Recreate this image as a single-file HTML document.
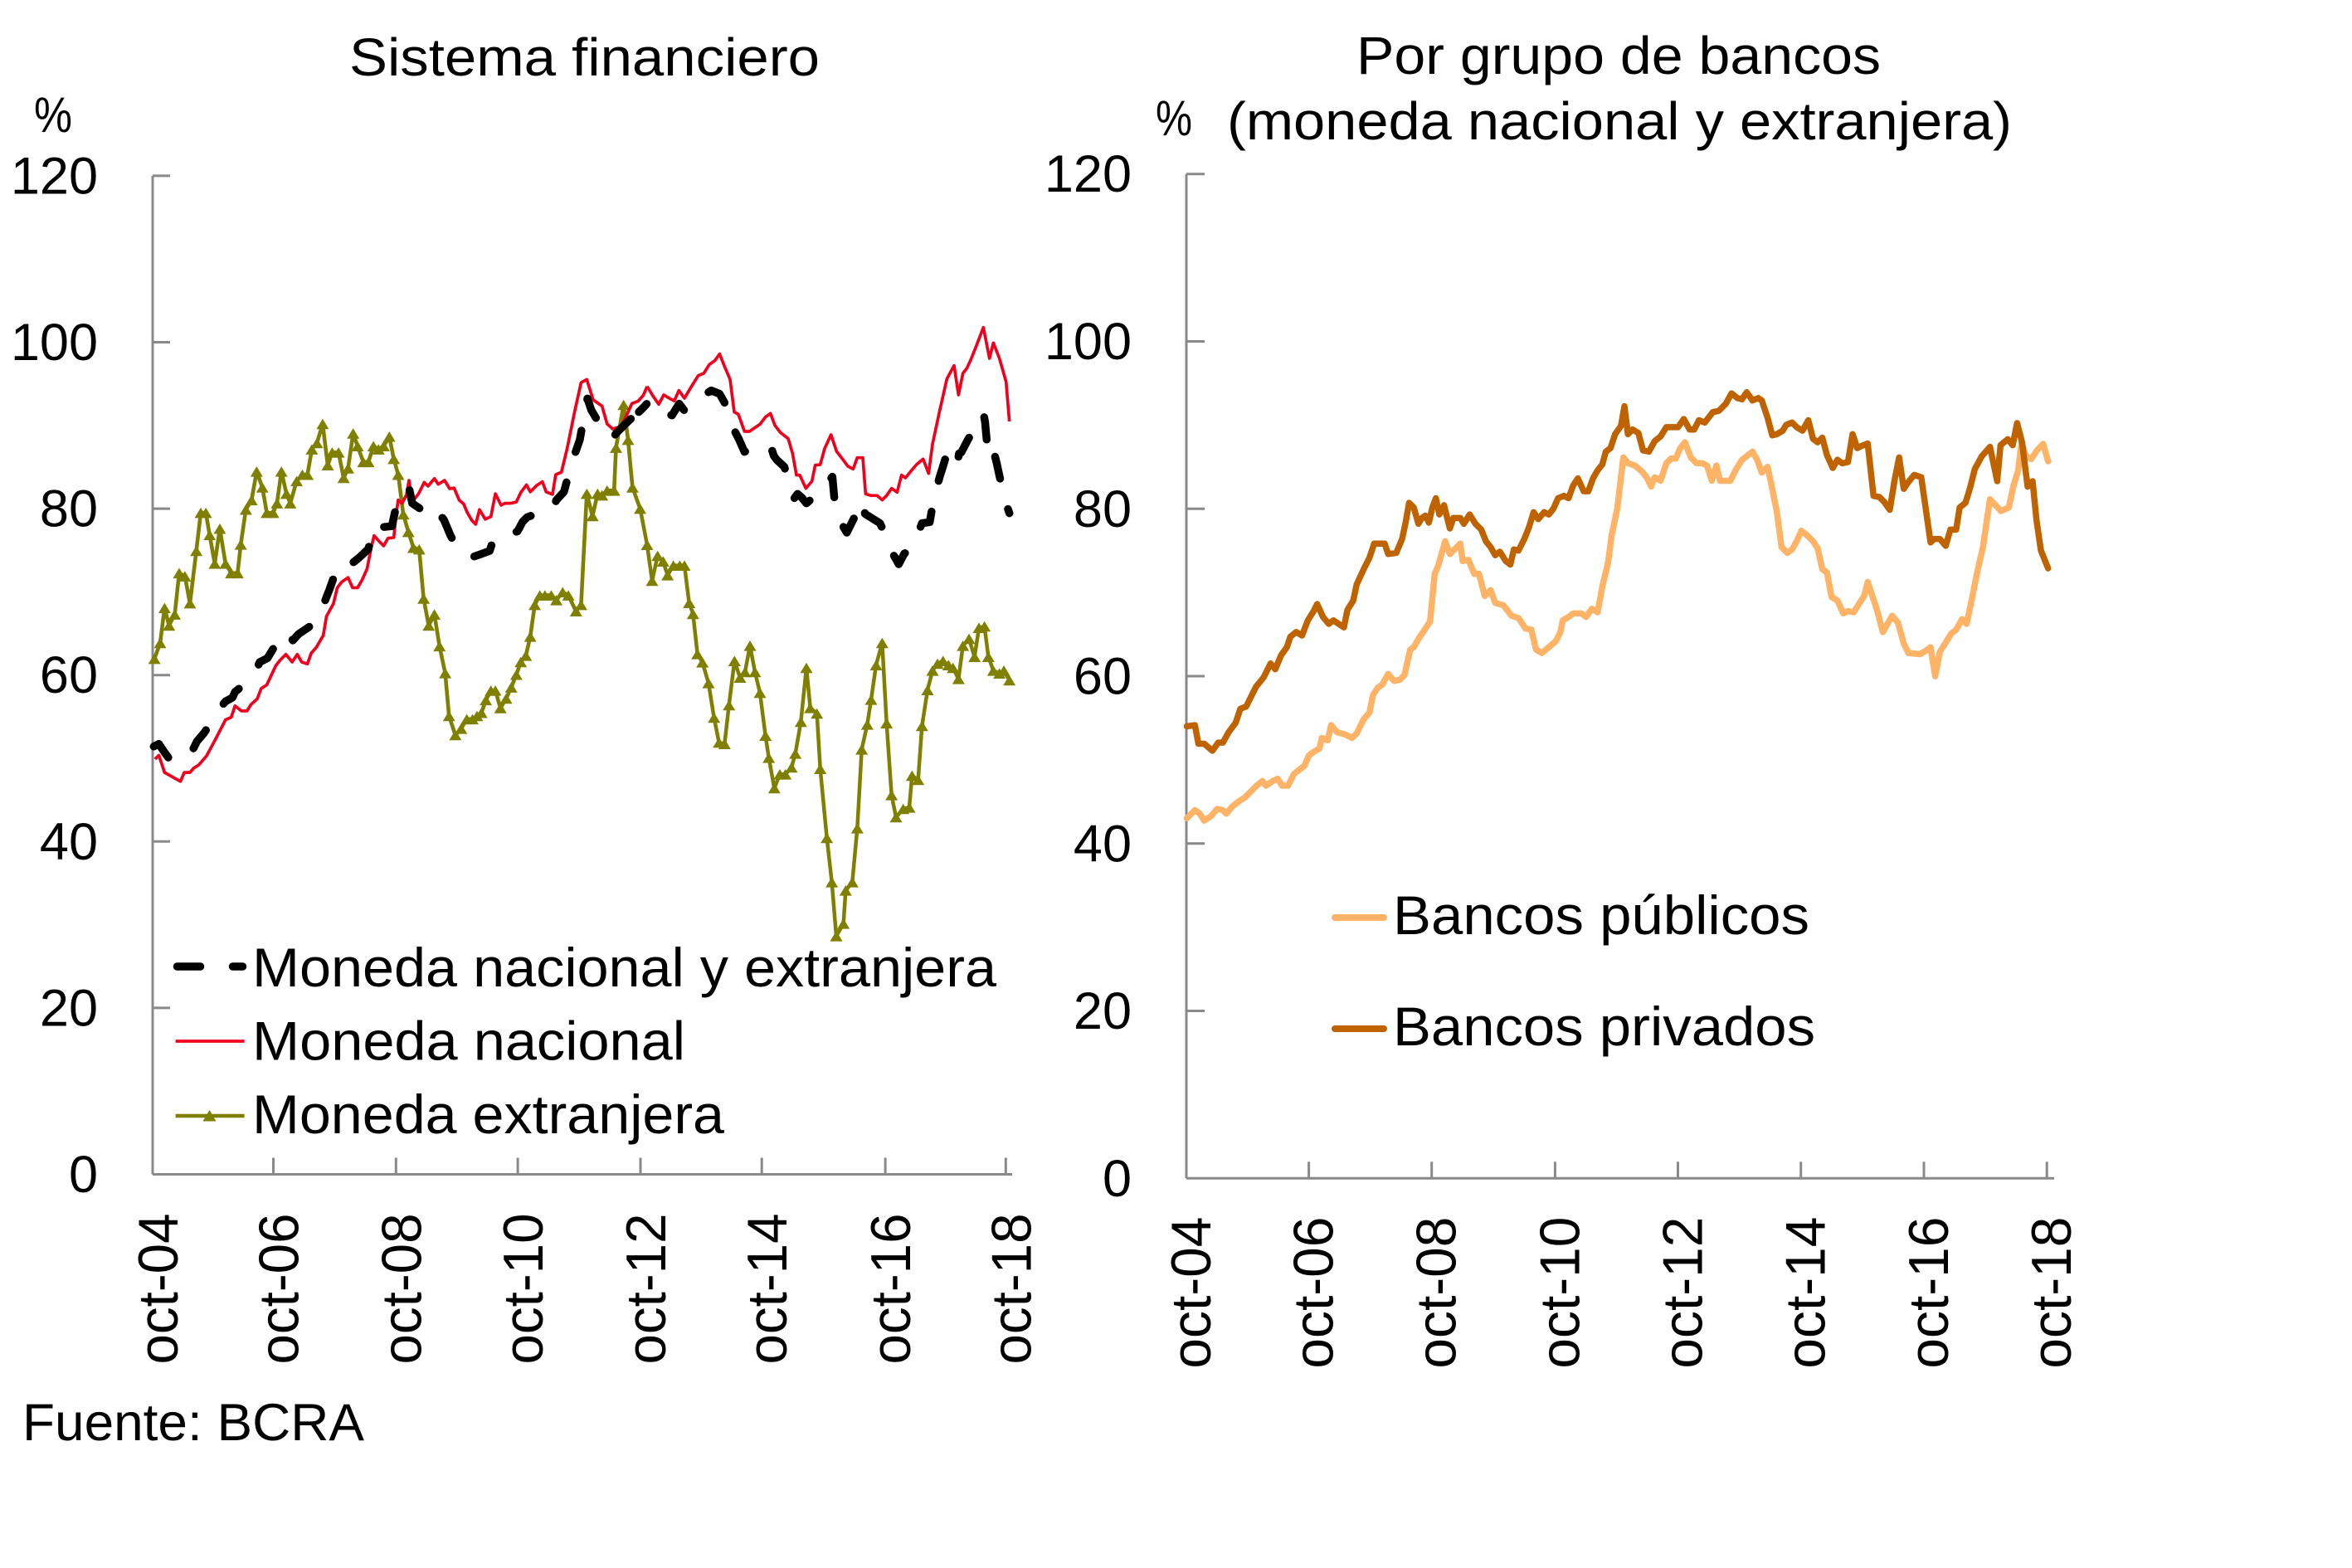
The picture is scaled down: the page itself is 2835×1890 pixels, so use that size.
<!DOCTYPE html>
<html>
<head>
<meta charset="utf-8">
<style>
html,body{margin:0;padding:0;background:#fff;}
svg{display:block;}
text{font-family:"Liberation Sans",Arial,sans-serif;fill:#000;}
</style>
</head>
<body>
<svg width="2835" height="1890" viewBox="0 0 2835 1890" xmlns="http://www.w3.org/2000/svg">
<defs>
<marker id="triA" viewBox="0 0 10 10" refX="5" refY="5" markerWidth="39" markerHeight="39" markerUnits="userSpaceOnUse" orient="0">
<path d="M0,9.2 L5,0.8 L10,9.2 Z" fill="#7F7F00"/>
</marker>
<marker id="triB" viewBox="0 0 10 10" refX="5" refY="5" markerWidth="45" markerHeight="45" markerUnits="userSpaceOnUse" orient="0">
<path d="M0,9.2 L5,0.8 L10,9.2 Z" fill="#7F7F00"/>
</marker>
</defs>
<rect width="2835" height="1890" fill="#fff"/>

<!-- Titles -->
<text x="421" y="91" font-size="64" textLength="567" lengthAdjust="spacingAndGlyphs">Sistema financiero</text>
<text x="41" y="159" font-size="60" textLength="46" lengthAdjust="spacingAndGlyphs">%</text>
<text x="1635" y="89" font-size="64" textLength="632" lengthAdjust="spacingAndGlyphs">Por grupo de bancos</text>
<text x="1393" y="163" font-size="60" textLength="44" lengthAdjust="spacingAndGlyphs">%</text>
<text x="1479" y="168" font-size="64" textLength="946" lengthAdjust="spacingAndGlyphs">(moneda nacional y extranjera)</text>

<!-- LEFT AXES -->
<g stroke="#898989" stroke-width="3" fill="none">
<line x1="184" y1="211.9" x2="184" y2="1415.5"/>
<line x1="184" y1="1415.5" x2="1220" y2="1415.5"/>
<line x1="184" y1="211.9" x2="205" y2="211.9"/>
<line x1="184" y1="412.5" x2="205" y2="412.5"/>
<line x1="184" y1="613.1" x2="205" y2="613.1"/>
<line x1="184" y1="813.7" x2="205" y2="813.7"/>
<line x1="184" y1="1014.3" x2="205" y2="1014.3"/>
<line x1="184" y1="1214.9" x2="205" y2="1214.9"/>
<line x1="329.5" y1="1415.5" x2="329.5" y2="1395.5"/>
<line x1="477.3" y1="1415.5" x2="477.3" y2="1395.5"/>
<line x1="624.1" y1="1415.5" x2="624.1" y2="1395.5"/>
<line x1="772" y1="1415.5" x2="772" y2="1395.5"/>
<line x1="918.2" y1="1415.5" x2="918.2" y2="1395.5"/>
<line x1="1067.1" y1="1415.5" x2="1067.1" y2="1395.5"/>
<line x1="1212.3" y1="1415.5" x2="1212.3" y2="1395.5"/>
</g>
<g font-size="63" text-anchor="end">
<text x="118" y="233.4">120</text>
<text x="118" y="434">100</text>
<text x="118" y="634.6">80</text>
<text x="118" y="835.2">60</text>
<text x="118" y="1035.8">40</text>
<text x="118" y="1236.4">20</text>
<text x="118" y="1437">0</text>
</g>
<g font-size="68" text-anchor="end">
<text transform="translate(214,1462.5) rotate(-90)" textLength="182" lengthAdjust="spacingAndGlyphs">oct-04</text>
<text transform="translate(359.5,1462.5) rotate(-90)" textLength="182" lengthAdjust="spacingAndGlyphs">oct-06</text>
<text transform="translate(507.3,1462.5) rotate(-90)" textLength="182" lengthAdjust="spacingAndGlyphs">oct-08</text>
<text transform="translate(654.1,1462.5) rotate(-90)" textLength="182" lengthAdjust="spacingAndGlyphs">oct-10</text>
<text transform="translate(802,1462.5) rotate(-90)" textLength="182" lengthAdjust="spacingAndGlyphs">oct-12</text>
<text transform="translate(948.2,1462.5) rotate(-90)" textLength="182" lengthAdjust="spacingAndGlyphs">oct-14</text>
<text transform="translate(1097.1,1462.5) rotate(-90)" textLength="182" lengthAdjust="spacingAndGlyphs">oct-16</text>
<text transform="translate(1242.3,1462.5) rotate(-90)" textLength="182" lengthAdjust="spacingAndGlyphs">oct-18</text>
</g>

<!-- LEFT SERIES: zoom7 region -->
<g transform="translate(180,400) scale(0.382653)" fill="none" stroke-linejoin="round">
<polyline stroke="#7F7F00" stroke-width="12" marker-start="url(#triA)" marker-mid="url(#triA)" marker-end="url(#triA)" points="16,1030 34,980 48,870 62,925 80,890 94,760 112,770 128,855 148,690 162,570 178,570 190,640 206,730 222,620 240,730 258,760 278,760 288,670 304,560 322,530 338,440 356,490 370,570 390,570 402,540 416,440 432,510 444,540 464,470 482,450 498,450 512,370 528,350 546,290 562,420 576,380 596,380 612,460 626,430 642,320 656,360 674,410 690,410 706,360 722,370 738,360 756,330 770,400 784,450 800,575 816,630 832,680 850,685 864,840 880,925 898,890 914,990 932,1075 944,1210 964,1270 982,1250 1000,1220 1018,1220 1032,1210 1046,1200 1060,1160 1076,1130 1090,1130 1106,1185 1124,1155 1140,1120 1156,1080 1170,1040 1186,1020 1200,960 1214,860 1230,830 1246,830 1266,830 1282,845 1302,820 1320,830 1344,880 1360,860 1378,510 1396,580 1412,510 1426,515 1442,500 1464,500 1470,365 1494,230 1508,340 1522,490 1546,557"/>
<polyline stroke="#F0001C" stroke-width="9.7" points="18,1346 30,1334 48,1388 98,1416 110,1388 128,1388 140,1374 156,1364 180,1336 208,1284 240,1222 258,1214 270,1178 290,1194 308,1194 320,1174 340,1156 352,1124 370,1112 384,1082 398,1052 412,1034 430,1016 450,1040 466,1016 480,1040 498,1046 510,1012 526,994 548,956 558,896 580,856 592,806 606,788 626,774 640,806 656,806 670,782 686,746 698,684 708,642 724,660 738,674 752,650 770,648 778,570 784,530 796,540 810,514 818,468 828,536 848,510 866,474 878,486 898,462 910,480 930,468 946,494 960,492 976,530 990,542 1002,570 1016,594 1028,606 1040,560 1058,590 1076,582 1090,510 1108,546 1120,540 1138,540 1156,536 1170,506 1188,482 1200,504 1220,484 1238,472 1250,504 1270,512 1280,450 1298,442 1316,368 1340,250 1360,160 1378,150 1398,214 1426,234 1442,290 1460,306 1484,298 1500,270 1520,226 1540,218 1556,200 1568,172"/>
<polyline stroke="#000" stroke-width="24.8" stroke-linecap="round" stroke-dasharray="70 100" points="14,1306 30,1298 46,1322 62,1344 80,1350 100,1350 115,1345 130,1330 150,1290 172,1264 195,1230 220,1188 240,1164 262,1152 270,1134 300,1110 330,1078 348,1040 372,1028 395,990 420,948 436,950 452,972 470,952 495,935 520,918 536,890 550,856 568,810 585,762 596,740 614,728 630,736 660,712 690,684 706,612 735,615 764,612 778,548 790,536 805,515 818,490 828,540 850,555 880,570 898,552 910,570 928,592 948,640 966,674 980,684 1000,690 1016,710 1045,700 1072,690 1086,648 1100,650 1130,640 1160,628 1176,598 1190,584 1206,578 1240,570 1270,560 1282,530 1306,504 1318,460 1330,414 1342,380 1356,340 1365,290 1374,248 1380,210 1392,246 1412,280 1432,302 1444,326 1460,336 1470,320 1505,285 1540,252 1545,250"/>
</g>

<!-- LEFT SERIES: zoom8 region -->
<g transform="translate(770,380) scale(0.333333)" fill="none" stroke-linejoin="round">
<polyline stroke="#7F7F00" stroke-width="13.5" marker-mid="url(#triB)" marker-end="url(#triB)" points="5,700 30,830 48,960 68,870 88,890 104,940 125,905 148,905 165,905 182,1040 196,1080 212,1225 230,1255 252,1330 272,1455 290,1545 310,1550 326,1410 346,1250 366,1310 384,1290 402,1195 420,1290 438,1365 458,1520 470,1600 490,1710 510,1660 530,1660 552,1635 566,1585 586,1470 606,1275 620,1420 644,1440 656,1640 680,1890 698,2050 714,2245 740,2200 748,2080 772,2050 790,1855 806,1570 826,1480 840,1390 858,1265 880,1185 896,1475 914,1735 930,1815 956,1785 978,1780 988,1665 1010,1680 1024,1485 1044,1355 1062,1285 1080,1260 1100,1250 1120,1265 1136,1275 1156,1315 1172,1195 1194,1170 1214,1235 1230,1130 1250,1125 1264,1235 1282,1285 1304,1295 1320,1285 1340,1320"/>
<polyline stroke="#F0001C" stroke-width="11" points="30,257 50,290 72,322 90,288 110,300 128,310 145,272 165,300 190,258 215,218 235,210 255,178 275,164 292,140 310,185 330,232 345,350 360,358 382,420 400,420 438,394 458,368 476,355 492,398 512,424 540,446 556,500 570,578 582,578 604,626 626,600 638,542 656,540 672,482 695,432 715,492 735,518 756,546 775,556 790,515 810,515 820,646 840,652 862,652 880,668 896,652 914,626 934,640 950,578 964,588 982,566 1004,540 1028,520 1048,572 1062,466 1086,354 1114,230 1140,182 1156,288 1172,210 1186,192 1200,162 1220,112 1246,44 1268,156 1282,100 1304,156 1328,240 1340,384"/>
<polyline stroke="#000" stroke-width="28.5" stroke-linecap="round" stroke-dasharray="81 114" stroke-dashoffset="40" points="0,350 20,330 36,312 46,338 80,350 120,362 146,320 166,346 205,310 246,282 262,272 292,284 310,316 328,365 344,414 362,448 382,494 430,470 478,476 488,508 500,524 526,548 545,605 562,662 574,646 590,660 606,680 630,660 660,638 680,608 700,584 706,650 712,710 725,740 752,786 770,750 790,710 808,672 818,718 845,735 872,752 890,790 904,828 920,865 940,900 960,862 984,846 1005,800 1024,752 1052,748 1062,690 1075,635 1088,584 1102,540 1114,500 1132,520 1150,545 1158,500 1166,496 1190,450 1216,406 1230,360 1248,364 1252,386 1257,440 1262,500 1280,478 1294,534 1305,585 1318,638 1328,680 1340,716"/>
</g>

<!-- LEFT LEGEND -->
<line x1="213.5" y1="1165" x2="241.5" y2="1165" stroke="#000" stroke-width="9.5" stroke-linecap="round"/>
<line x1="280.5" y1="1165" x2="292.5" y2="1165" stroke="#000" stroke-width="9.5" stroke-linecap="round"/>
<line x1="211.6" y1="1255" x2="294.6" y2="1255" stroke="#F0001C" stroke-width="3.7"/>
<line x1="211.6" y1="1345" x2="294.6" y2="1345" stroke="#7F7F00" stroke-width="4.5"/>
<path d="M244.5,1351.5 L252.5,1338 L260.5,1351.5 Z" fill="#7F7F00"/>
<g font-size="66">
<text x="304" y="1189" textLength="897" lengthAdjust="spacingAndGlyphs">Moneda nacional y extranjera</text>
<text x="304" y="1277.7" textLength="522" lengthAdjust="spacingAndGlyphs">Moneda nacional</text>
<text x="304" y="1366" textLength="569" lengthAdjust="spacingAndGlyphs">Moneda extranjera</text>
</g>

<text x="27" y="1736" font-size="63" textLength="412" lengthAdjust="spacingAndGlyphs">Fuente: BCRA</text>

<!-- RIGHT AXES -->
<g stroke="#898989" stroke-width="3" fill="none">
<line x1="1430" y1="209.7" x2="1430" y2="1420.3"/>
<line x1="1430" y1="1420.3" x2="2476" y2="1420.3"/>
<line x1="1430" y1="209.7" x2="1452" y2="209.7"/>
<line x1="1430" y1="411.5" x2="1452" y2="411.5"/>
<line x1="1430" y1="613.3" x2="1452" y2="613.3"/>
<line x1="1430" y1="815" x2="1452" y2="815"/>
<line x1="1430" y1="1016.8" x2="1452" y2="1016.8"/>
<line x1="1430" y1="1218.5" x2="1452" y2="1218.5"/>
<line x1="1577.6" y1="1420.3" x2="1577.6" y2="1400.3"/>
<line x1="1725.7" y1="1420.3" x2="1725.7" y2="1400.3"/>
<line x1="1874.4" y1="1420.3" x2="1874.4" y2="1400.3"/>
<line x1="2022.5" y1="1420.3" x2="2022.5" y2="1400.3"/>
<line x1="2170.7" y1="1420.3" x2="2170.7" y2="1400.3"/>
<line x1="2319" y1="1420.3" x2="2319" y2="1400.3"/>
<line x1="2467.2" y1="1420.3" x2="2467.2" y2="1400.3"/>
</g>
<g font-size="63" text-anchor="end">
<text x="1364" y="231.2">120</text>
<text x="1364" y="433">100</text>
<text x="1364" y="634.8">80</text>
<text x="1364" y="836.5">60</text>
<text x="1364" y="1038.3">40</text>
<text x="1364" y="1240">20</text>
<text x="1364" y="1441.8">0</text>
</g>
<g font-size="68" text-anchor="end">
<text transform="translate(1459,1466.6) rotate(-90)" textLength="183" lengthAdjust="spacingAndGlyphs">oct-04</text>
<text transform="translate(1606.6,1466.6) rotate(-90)" textLength="183" lengthAdjust="spacingAndGlyphs">oct-06</text>
<text transform="translate(1754.7,1466.6) rotate(-90)" textLength="183" lengthAdjust="spacingAndGlyphs">oct-08</text>
<text transform="translate(1903.4,1466.6) rotate(-90)" textLength="183" lengthAdjust="spacingAndGlyphs">oct-10</text>
<text transform="translate(2051.5,1466.6) rotate(-90)" textLength="183" lengthAdjust="spacingAndGlyphs">oct-12</text>
<text transform="translate(2199.7,1466.6) rotate(-90)" textLength="183" lengthAdjust="spacingAndGlyphs">oct-14</text>
<text transform="translate(2348,1466.6) rotate(-90)" textLength="183" lengthAdjust="spacingAndGlyphs">oct-16</text>
<text transform="translate(2496.2,1466.6) rotate(-90)" textLength="183" lengthAdjust="spacingAndGlyphs">oct-18</text>
</g>

<!-- RIGHT SERIES: zoom6 region -->
<g transform="translate(1300,0) scale(0.701508)" fill="none" stroke-linejoin="round" stroke-linecap="round" stroke-width="10.7">
<polyline stroke="#FFB366" points="186,1406 200,1392 208,1398 216,1410 228,1402 238,1390 248,1392 254,1398 264,1386 274,1378 286,1370 296,1360 306,1350 316,1342 322,1350 334,1342 342,1338 350,1350 360,1350 370,1330 380,1322 388,1316 396,1298 404,1292 414,1286 418,1268 428,1272 434,1246 444,1258 458,1262 470,1268 478,1260 490,1236 500,1224 506,1194 514,1182 522,1176 532,1158 542,1170 552,1168 560,1160 570,1116 576,1112 584,1098 596,1080 604,1068 612,986 618,972 630,930 638,952 646,944 656,934 660,964 670,962 680,986 688,986 698,1024 708,1014 716,1036 730,1040 744,1058 756,1062 768,1080 778,1082 786,1116 796,1122 808,1112 820,1102 828,1086 832,1066 842,1060 850,1054 864,1054 872,1060 882,1046 892,1052 900,1008 910,966 916,920 926,872 936,786 944,796 956,800 968,810 976,820 984,836 990,820 1000,826 1010,796 1018,788 1026,788 1034,770 1042,760 1052,786 1062,796 1072,796 1080,800 1088,826 1096,800 1102,826 1120,826 1130,806 1140,790 1148,784 1158,776 1166,790 1174,812 1184,802 1192,840 1200,880 1208,940 1218,950 1226,944 1234,930 1242,912 1252,920 1262,930 1270,942 1278,978 1286,984 1294,1026 1304,1032 1314,1054 1322,1050 1332,1052 1342,1036 1350,1024 1356,1000 1364,1024 1372,1048 1382,1086 1390,1072 1398,1058 1408,1070 1418,1106 1426,1122 1446,1124 1456,1118 1464,1112 1472,1162 1480,1120 1490,1104 1500,1088 1508,1082 1518,1064 1526,1072 1534,1034 1544,984 1554,940 1566,858"/>
<polyline stroke="#BF6200" points="186,1248 200,1246 206,1278 216,1278 230,1290 240,1276 248,1276 258,1258 270,1242 278,1218 288,1214 298,1194 305,1180 318,1164 330,1140 338,1150 348,1126 358,1112 364,1094 374,1086 384,1092 394,1066 404,1050 410,1038 420,1060 430,1072 438,1066 456,1078 462,1048 472,1032 478,1004 490,978 500,958 508,934 520,934 526,934 532,952 546,950 556,926 562,898 568,864 576,872 584,900 590,890 596,886 602,898 608,872 614,856 620,884 628,868 638,908 644,890 656,890 662,900 672,884 682,900 692,910 700,930 708,940 716,954 724,948 734,964 742,970 748,944 756,946 766,926 774,906 782,880 790,892 800,880 808,884 816,874 824,856 834,852 842,856 850,834 858,822 868,844 876,844 884,822 892,808 900,798 906,776 914,770 922,746 932,732 938,698 944,746 952,738 962,744 970,774 980,776 990,758 1000,750 1010,734 1030,734 1040,720 1050,738 1058,738 1066,722 1076,726 1090,708 1100,706 1112,694 1122,676 1132,684 1140,686 1148,674 1158,688 1168,684 1174,688 1184,718 1192,748 1200,746 1210,740 1216,730 1226,726 1234,734 1244,740 1254,722 1262,754 1270,760 1278,752 1286,782 1296,804 1304,790 1312,796 1322,794 1330,746 1338,770 1346,766 1356,762 1366,852 1376,854 1384,862 1394,876 1402,826 1410,786 1418,840 1426,828 1436,816 1448,820 1456,876 1464,932 1470,926 1480,926 1490,938 1498,910 1508,910 1514,872 1524,864 1532,838 1540,806 1552,784 1566,768"/>
</g>
<!-- RIGHT SERIES: zoom10 region -->
<g transform="translate(2120,440) scale(0.333333)" fill="none" stroke-linejoin="round" stroke-linecap="round" stroke-width="22.5">
<polyline stroke="#FFB366" points="836,486 876,528 904,515 920,440 938,380 950,280 966,330 985,340 1005,310 1028,285 1046,348"/>
<polyline stroke="#BF6200" points="836,296 862,420 874,290 900,268 918,290 934,210 952,280 972,440 990,420 1004,560 1020,670 1046,735"/>
</g>

<!-- RIGHT LEGEND -->
<line x1="1609" y1="1106" x2="1668" y2="1106" stroke="#FFB366" stroke-width="8" stroke-linecap="round"/>
<line x1="1609" y1="1240" x2="1668" y2="1240" stroke="#BF6200" stroke-width="8" stroke-linecap="round"/>
<g font-size="66">
<text x="1679" y="1126" textLength="502" lengthAdjust="spacingAndGlyphs">Bancos públicos</text>
<text x="1679" y="1260" textLength="509" lengthAdjust="spacingAndGlyphs">Bancos privados</text>
</g>
</svg>
</body>
</html>
